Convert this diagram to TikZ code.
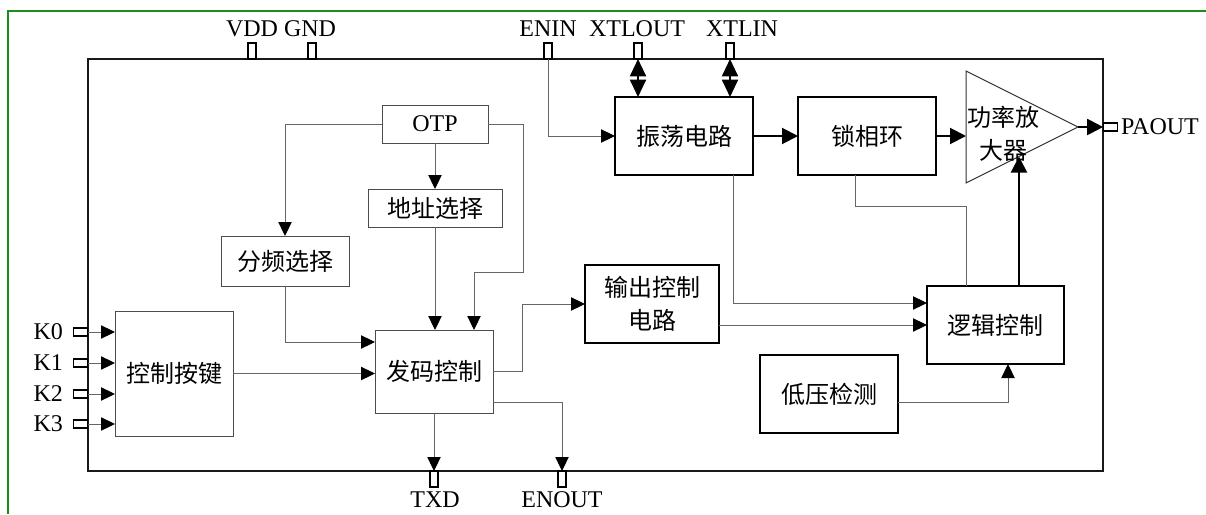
\documentclass[tikz,border=0pt]{standalone}
\usepackage{fontspec}
\setmainfont{Liberation Serif}
\newfontfamily\cjk{Noto Sans CJK SC}
\usetikzlibrary{arrows.meta,calc}
\definecolor{framegreen}{RGB}{30,140,30}
\begin{document}
\begin{tikzpicture}[x=0.75pt,y=-0.75pt,
  every node/.style={font=\fontsize{18}{25}\selectfont, inner sep=0pt, outer sep=0pt},
  thinbox/.style={draw=black!70, line width=0.75pt, fill=white, align=center},
  thickbox/.style={draw=black, line width=1.5pt, fill=white, align=center},
  sz/.style 2 args={minimum width=#1*0.75pt, minimum height=#2*0.75pt},
  gline/.style={draw=black!60, line width=0.75pt},
  conn/.style={gline, -{Triangle[length=10.5pt,width=10pt,color=black]}},
  tline/.style={draw=black, line width=1.5pt, -{Triangle[length=12pt,width=12pt]}},
  dbl/.style={draw=black, line width=1.5pt, {Triangle[length=13pt,width=12pt]}-{Triangle[length=13pt,width=12pt]}},
  vpin/.style={draw=black, line width=0.9pt, fill=white, minimum width=6pt, minimum height=12pt},
  hpin/.style={draw=black, line width=0.9pt, fill=white, minimum width=11pt, minimum height=6pt},
]
\useasboundingbox (0,0) rectangle (1206,514);
% green frame
\draw[draw=framegreen, line width=1.5pt] (1206,11) -- (8,11) -- (8,514);

% main chip outline
\node[draw=black!90, line width=1.1pt, sz={1015}{412}] (main) at (595.5,265) {};

% blocks
\node[thickbox, sz={138}{78}] (osc) at (684,136) {\cjk 振荡电路};
\node[thickbox, sz={138}{78}] (pll) at (867,136) {\cjk 锁相环};
\node[thinbox, sz={106}{38}] (otp) at (435,124) {OTP};
\node[thinbox, sz={134}{38}] (addr) at (435,208) {\cjk 地址选择};
\node[thinbox, sz={128}{50}] (div) at (285,261) {\cjk 分频选择};
\node[thinbox, sz={118}{125}] (key) at (174,373.5) {\cjk 控制按键};
\node[thinbox, sz={118}{83}] (enc) at (434,371.5) {\cjk 发码控制};
\node[thickbox, sz={134}{78}] (out) at (652,304) {\cjk 输出控制\\\cjk 电路};
\node[thickbox, sz={137}{78}] (logic) at (995.5,325) {\cjk 逻辑控制};
\node[thickbox, sz={138}{78}] (lv) at (829,394) {\cjk 低压检测};

% power amplifier triangle
\coordinate (paTL) at (966,71);
\coordinate (paBL) at (966,183);
\coordinate (paApex) at (1078,127);
\draw[draw=black!80, line width=0.75pt, fill=white] (paTL) -- (paApex) -- (paBL) -- cycle;
\node[align=center] (patext) at (1003,134) {\cjk 功率放\\\cjk 大器};
\coordinate (paIn) at ($(paBL)!0.473!(paApex)$);

% top pins
\node[vpin] (vdd) at (252,51) {};
\node[vpin] (gnd) at (312,51) {};
\node[vpin] (enin) at (548,51) {};
\node[vpin] (xtlout) at (638,51) {};
\node[vpin] (xtlin) at (730,51) {};
\node (vddl) at (252,29) {VDD};
\node (gndl) at (310,29) {GND};
\node (eninl) at (548,29) {ENIN};
\node (xtloutl) at (637,29) {XTLOUT};
\node (xtlinl) at (742,29) {XTLIN};

% bottom pins
\node[vpin] (txd) at (434,479) {};
\node[vpin] (enout) at (562,479) {};
\node (txdl) at (435,500) {TXD};
\node (enoutl) at (562,500) {ENOUT};

% left pins
\node[hpin] (k0) at (80.5,332) {};
\node[hpin] (k1) at (80.5,363) {};
\node[hpin] (k2) at (80.5,394) {};
\node[hpin] (k3) at (80.5,424) {};
\node[anchor=east] (k0l) at (63,332) {K0};
\node[anchor=east] (k1l) at (63,363) {K1};
\node[anchor=east] (k2l) at (63,394) {K2};
\node[anchor=east] (k3l) at (63,424) {K3};

% right pin
\node[hpin] (paout) at (1110.5,127) {};
\node[anchor=west] (paoutl) at (1121,127) {PAOUT};

% connectors
\draw[conn] (enin.south) |- (osc.west);
\draw[dbl] (xtlout.south) -- (xtlout.south |- osc.north);
\draw[dbl] (xtlin.south) -- (xtlin.south |- osc.north);
\draw[tline] (osc.east) -- (pll.west);
\draw[tline] (pll.east) -- (pll.east -| paTL);
\draw[tline] (paApex) -- (paout.west);
\draw[tline] (paIn |- logic.north) -- (paIn);
\draw[gline] ($(pll.south west)+(57,0)$) -- ++(0,31) -| ($(logic.north west)+(39,0)$);
\draw[conn] ($(osc.south west)+(118,0)$) |- ($(logic.west)+(0,-22)$);
\draw[conn] ($(out.east)+(0,21)$) -- (logic.west);
\draw[conn] ($(lv.east)+(0,8)$) -| ($(logic.south west)+(81,0)$);
\draw[conn] (enc.east) -- ++(29,0) |- (out.west);
\draw[conn] (enc.south) -- (enc.south |- txd.north);
\draw[conn] ($(enc.south east)+(0,-11)$) -| (enout.north);
\draw[conn] (key.east) -- (key.east -| enc.west);
\draw[conn] (div.south) |- ($(enc.north west)+(0,12)$);
\draw[conn] (addr.south) -- (addr.south |- enc.north);
\draw[conn] (otp.south) -- (addr.north);
\draw[conn] (otp.west) -| (div.north);
\draw[conn] (otp.east) -- ++(35,0) -- ++(0,148) -| ($(enc.north west)+(99,0)$);
\draw[conn] (k0.east) -- (k0.east -| key.west);
\draw[conn] (k1.east) -- (k1.east -| key.west);
\draw[conn] (k2.east) -- (k2.east -| key.west);
\draw[conn] (k3.east) -- (k3.east -| key.west);
\end{tikzpicture}
\end{document}
